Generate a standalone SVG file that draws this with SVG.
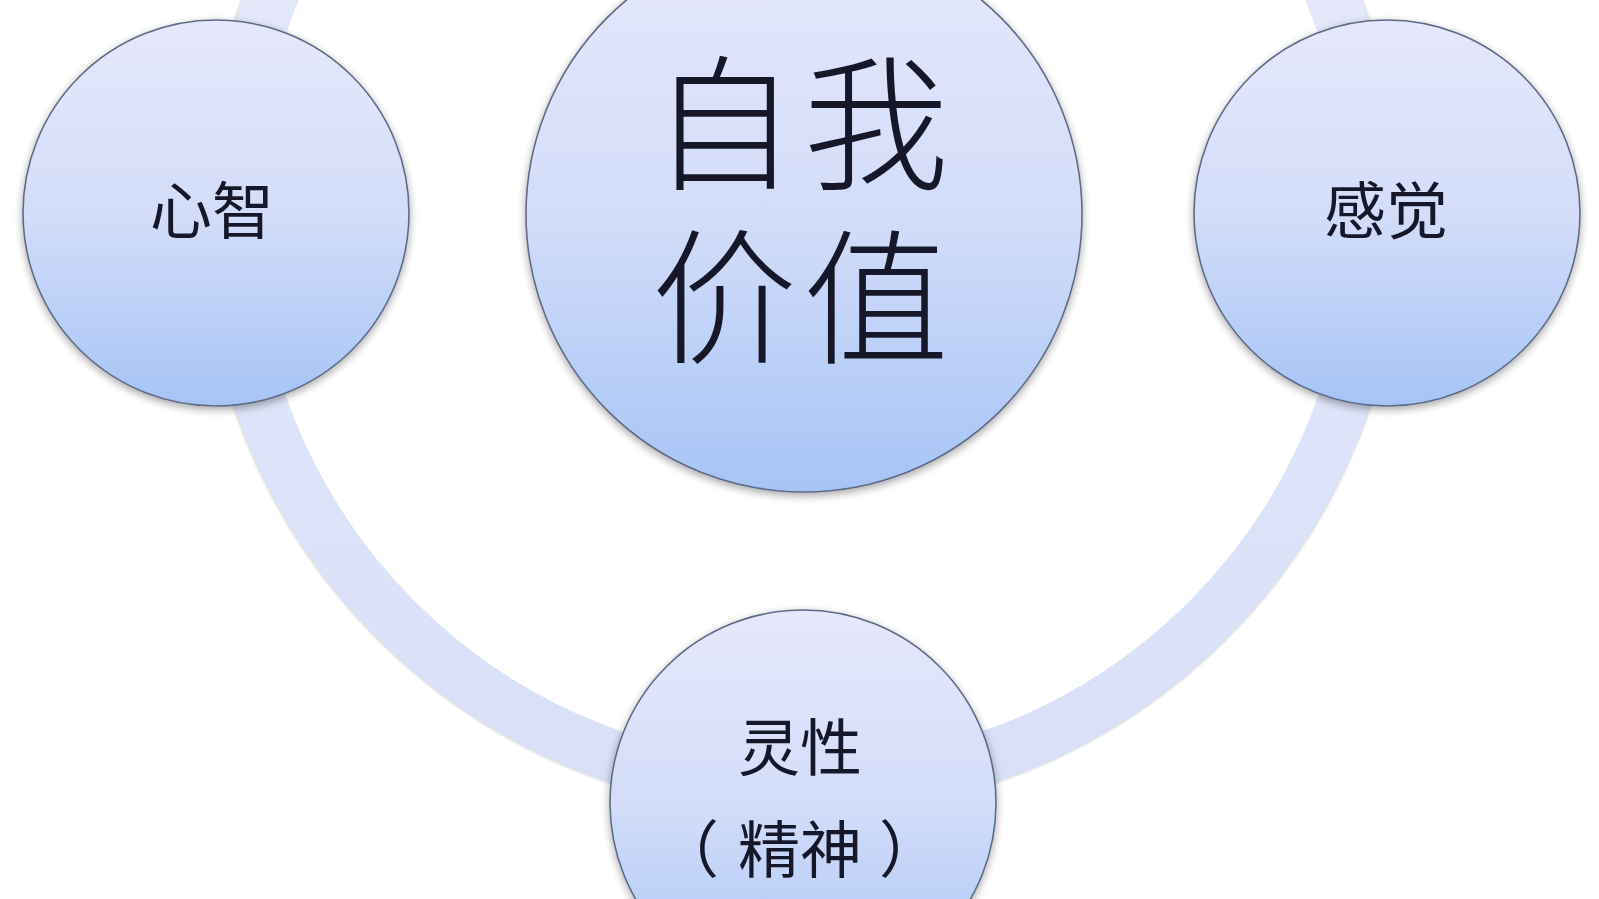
<svg xmlns="http://www.w3.org/2000/svg" width="1599" height="899" viewBox="0 0 1599 899">
  <defs>
    <linearGradient id="nodeFill" x1="0" y1="0" x2="0" y2="1">
      <stop offset="0" stop-color="#e6e8fb"/>
      <stop offset="0.5" stop-color="#d3ddf9"/>
      <stop offset="1" stop-color="#a6c4f6"/>
    </linearGradient>
    <linearGradient id="ringFill" gradientUnits="userSpaceOnUse" x1="0" y1="-360" x2="0" y2="790">
      <stop offset="0" stop-color="#e9ebfb"/>
      <stop offset="1" stop-color="#d8e0f8"/>
    </linearGradient>
    <filter id="shadow" x="-20%" y="-20%" width="140%" height="140%">
      <feGaussianBlur in="SourceAlpha" stdDeviation="4"/>
      <feOffset dx="0" dy="3" result="b"/>
      <feComponentTransfer><feFuncA type="linear" slope="0.35"/></feComponentTransfer>
      <feMerge><feMergeNode/><feMergeNode in="SourceGraphic"/></feMerge>
    </filter>
    <filter id="soft" x="-10%" y="-10%" width="120%" height="120%">
      <feGaussianBlur stdDeviation="1.5"/>
    </filter>
  </defs>
  <style>
    .node { fill: url(#nodeFill); stroke: #5f6b86; stroke-width: 1.6; }
    .label { font-family: "Noto Sans CJK SC", "Noto Sans", sans-serif; fill: #16182a; text-anchor: middle; dominant-baseline: central; }
    .small { font-size: 62px; }
    .big { font-size: 146px; font-weight: 300; letter-spacing: 6px; }
  </style>
  <rect width="1599" height="899" fill="#ffffff"/>

  <g id="connectors">
    <circle cx="802" cy="215" r="599" fill="none" stroke="#8f96a8" stroke-width="2" opacity="0.6" filter="url(#soft)"/>
    <circle cx="802" cy="215" r="573" fill="none" stroke="url(#ringFill)" stroke-width="52"/>
  </g>

  <g id="node-center">
    <circle class="node" cx="804" cy="214" r="278" filter="url(#shadow)"/>
    <text class="label big"><tspan x="803" y="114">自我</tspan><tspan x="803" y="288">价值</tspan></text>
  </g>

  <g id="node-left">
    <circle class="node" cx="216" cy="213" r="193" filter="url(#shadow)"/>
    <text class="label small" x="212" y="207">心智</text>
  </g>

  <g id="node-right">
    <circle class="node" cx="1387" cy="213" r="193" filter="url(#shadow)"/>
    <text class="label small" x="1386" y="207">感觉</text>
  </g>

  <g id="node-bottom">
    <circle class="node" cx="803" cy="803" r="193" filter="url(#shadow)"/>
    <text class="label small" x="800" y="744">灵性</text>
    <text class="label small" y="846"><tspan x="688">（</tspan><tspan x="800">精神</tspan><tspan x="910">）</tspan></text>
  </g>
</svg>
